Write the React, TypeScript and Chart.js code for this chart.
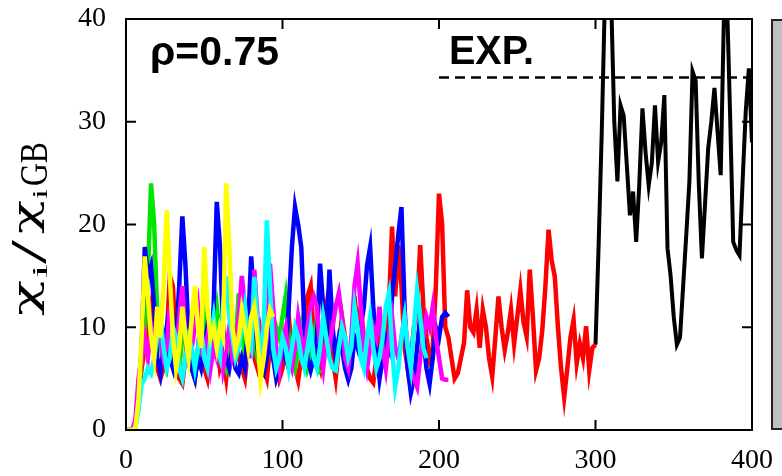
import React, { useEffect, useRef } from 'react';
import { Chart, registerables } from 'chart.js';

Chart.register(...registerables);

// x-axis tick labels & ranges
const X_MIN = 0;
const X_MAX = 400;
const Y_MIN = 0;
const Y_MAX = 40;
const STEP = 2; // time spacing of samples

// Experimental level (dashed line)
const EXP_START = 200;
const EXP_END = 400;
const EXP_VALUE = 34.3;

// series: start x and values sampled every STEP
const redStart = 0;
const redValues = [
  0, 0, 0, 0.3, 3, 6,
  8, 10, 12, 9, 6, 5, 6, 9, 15, 14,
  8, 5, 4.5, 7, 10, 6, 5, 8, 7, 6,
  5, 8, 11, 9, 6, 7, 5, 8, 10, 9,
  7, 6, 5, 8, 12, 7, 6, 9, 6, 5,
  8, 10, 7, 5, 6, 9, 11, 8, 6, 4.8,
  7, 10, 13, 14, 9, 7, 6, 10, 12, 9,
  7, 5, 8, 11, 9, 6, 8, 13, 10, 12,
  9, 6, 5, 4.6, 7, 10, 9, 6, 12, 19.8,
  13, 18, 14, 8, 6, 7, 10, 12, 18, 12,
  9, 7, 8, 14, 23, 20, 10, 9, 7, 5,
  5.5, 7, 8.5, 13.6, 10, 9.5, 11.7, 8, 11.7, 10,
  7, 5.2, 9, 13, 10, 7.8, 9.5, 11.7, 8.4, 11,
  13.6, 10.5, 9.1, 15.6, 11, 5.8, 7, 9.7, 14, 19.5,
  16.5, 14.9, 10, 6, 3.2, 6, 9, 10.7, 6.5, 8.4,
  7, 10.1, 5.8, 8, 8.3,
];

const blackStart = 300;
const blackValues = [
  8.3, 18, 29, 42, 45, 42, 30, 24.2, 31.6, 30.6,
  25.8, 20.9, 23.2, 18.3, 24, 31.3, 27, 23.8, 26, 31.6,
  26.1, 28, 32.6, 17.7, 15, 11, 8.3, 9, 14, 19,
  24.2, 34.9, 34, 24, 16.7, 22, 27.4, 30, 33.3, 29,
  24.8, 40, 42, 30.7, 18.3, 17.5, 17, 24.2, 31, 35.2,
  28,
];

const blueStart = 0;
const blueValues = [
  0, 0, 0, 0.5, 4, 8,
  17.8, 15, 16, 12, 7, 5.5, 8, 10, 7, 6,
  9, 14, 20.8, 16, 9, 6, 5, 7, 6, 8,
  10, 7, 12, 22.2, 18, 10, 7, 6, 8, 6,
  5.5, 7, 6, 10, 16.9, 12, 8, 6, 5.5, 7,
  9, 7, 5, 6, 8, 7, 12, 17.8, 21.7, 20,
  17.8, 10, 7, 5.8, 7, 9, 16.2, 12, 8, 15.6,
  10, 7, 9, 8, 6, 4.9, 6, 9, 8, 10,
  12, 16, 17.8, 12, 8, 5, 7, 9, 8, 13,
  16, 19, 21.7, 12, 6, 3.6, 5, 8, 11, 9,
  6, 4.5, 7, 10, 9, 11, 11.4, 11,
];

const greenStart = 0;
const greenValues = [
  0, 0, 0, 0.3, 3, 7,
  10, 15, 24, 20, 11, 8, 7, 6, 8, 10,
  7, 6, 9, 12, 8, 6, 5, 7, 9, 11,
  8, 7, 10, 12, 9, 7, 6, 8, 10, 8,
  13.3, 10, 7, 8, 12, 9, 7, 6, 9, 11,
  8, 7, 10, 9, 11, 13, 9, 7, 6, 8,
  10, 8, 6, 7, 9, 6, 5.5,
];

const magentaStart = 0;
const magentaValues = [
  0, 0, 0, 1, 5, 7,
  9, 7, 10, 8, 12, 9, 7, 8, 12, 9,
  7, 11, 14, 9, 7, 8, 10, 12, 8, 7,
  9, 6, 8, 7, 9, 6, 8, 10, 7, 8,
  11, 15, 12, 9, 7, 15.6, 11, 8, 7, 9,
  16.2, 12, 8, 6, 9, 10, 7, 6, 8, 11,
  9, 7, 10, 12, 13, 12, 8, 6, 9, 8,
  10, 12, 13.3, 11, 7, 6, 9, 14, 16.2, 12,
  8, 6, 8, 10, 9, 12, 8, 6, 9, 11,
  8, 7, 9, 11, 8, 6, 5, 4.2, 7, 9,
  11, 10, 12, 9, 7, 5, 4.9, 4.9,
];

const cyanStart = 0;
const cyanValues = [
  0, 0, 0, 0.2, 2, 4.5,
  5, 6, 5.5, 7, 9, 11, 8, 6, 7, 10,
  9, 6, 5, 7, 9, 8, 6, 8, 10, 7,
  6, 9, 11, 8, 7, 12, 15, 11, 9, 7,
  8, 10, 12, 9, 8, 14.9, 10, 7, 10, 20.4,
  14, 8, 6, 7, 9, 8, 6, 8, 10, 9,
  7, 6, 8, 10, 7, 6, 8, 11, 9, 7,
  6, 5.8, 8, 10, 9, 7, 8, 12, 10, 7,
  6, 9, 11, 8, 6, 7, 9, 12, 13.3, 8,
  4.2, 6, 9, 11, 8, 6, 10, 13.6, 11, 8, 7,
];

const yellowStart = 0;
const yellowValues = [
  0, 0, 0, 0.2, 3, 9,
  16.9, 13, 9, 7, 12, 9, 14, 21.4, 15, 9,
  6, 8, 12, 9, 7, 11, 14, 10, 8, 17.8,
  12, 9, 10, 8, 10, 9, 24, 18, 10, 7.8,
  9, 11.7, 10, 8, 11, 12, 9, 4.9, 7, 10, 11.7, 11,
];

const xTickLabels = [0, 100, 200, 300, 400];
const yTickLabels = [0, 10, 20, 30, 40];

const toPoints = (start: number, values: number[]) =>
  values.map((y, i) => ({ x: start + i * STEP, y }));

const PLOT_LEFT_W = 126;
const X_AXIS_H = 46;

const framePlugin = {
  id: 'framePlugin',
  afterDatasetsDraw(chart: any) {
    const { ctx, chartArea } = chart;
    const { left, right, top, bottom } = chartArea;
    const xs = chart.scales.x;
    const ys = chart.scales.y;
    ctx.save();
    ctx.strokeStyle = '#000';
    ctx.lineWidth = 2;
    ctx.strokeRect(left, top, right - left, bottom - top);
    // inward tick marks
    const tl = 10;
    ctx.beginPath();
    for (const v of xTickLabels) {
      const px = xs.getPixelForValue(v);
      ctx.moveTo(px, bottom);
      ctx.lineTo(px, bottom - tl);
      ctx.moveTo(px, top);
      ctx.lineTo(px, top + tl);
    }
    for (const v of yTickLabels) {
      const py = ys.getPixelForValue(v);
      ctx.moveTo(left, py);
      ctx.lineTo(left + tl, py);
      ctx.moveTo(right, py);
      ctx.lineTo(right - tl, py);
    }
    ctx.stroke();

    // grey side panel
    ctx.fillStyle = '#c0c0c0';
    ctx.fillRect(right + 20, top + 1, 40, bottom - top - 2);
    ctx.lineWidth = 2;
    ctx.strokeStyle = '#222';
    ctx.strokeRect(right + 20, top + 1, 40, bottom - top - 2);

    // annotations
    ctx.fillStyle = '#000';
    ctx.font = 'bold 41px "Liberation Sans", Arial, sans-serif';
    ctx.textAlign = 'left';
    ctx.textBaseline = 'alphabetic';
    ctx.fillText('ρ=0.75', 150, 65, 132);
    ctx.fillText('EXP.', 449, 64, 85);

    // y-axis title: χi / χiGB (rotated)
    const piece = (text: string, font: string, yBottom: number, yTop: number, baseX: number) => {
      ctx.save();
      ctx.font = font;
      const w = ctx.measureText(text).width;
      ctx.translate(baseX, yBottom);
      ctx.rotate(-Math.PI / 2);
      ctx.scale((yBottom - yTop) / w, 1);
      ctx.fillText(text, 0, 0);
      ctx.restore();
    };
    const serif = '"DejaVu Serif", "Liberation Serif", serif';
    const lserif = '"Liberation Serif", "Times New Roman", serif';
    piece('χ', `34px ${serif}`, 316, 280, 37);
    piece('i', `22px ${lserif}`, 278, 264, 47);
    piece('/', `50px ${lserif}`, 264, 240, 45);
    piece('χ', `34px ${serif}`, 234, 200, 37);
    piece('i', `22px ${lserif}`, 199, 189, 47);
    piece('GB', `40px ${lserif}`, 186, 142, 47);
    ctx.restore();
  },
};

export default function App() {
  const ref = useRef<HTMLCanvasElement | null>(null);
  useEffect(() => {
    if (!ref.current) return;
    const mk = (label: string, start: number, values: number[], color: string, order: number, width = 4.5) => ({
      label,
      data: toPoints(start, values),
      borderColor: color,
      backgroundColor: color,
      borderWidth: width,
      pointRadius: 0,
      tension: 0,
      fill: false,
      order,
    });
    const chart = new Chart(ref.current, {
      type: 'line',
      data: {
        datasets: [
          {
            label: 'EXP.',
            data: [
              { x: EXP_START, y: EXP_VALUE },
              { x: EXP_END, y: EXP_VALUE },
            ],
            borderColor: '#000',
            borderWidth: 2.5,
            borderDash: [10, 6],
            pointRadius: 0,
            fill: false,
            order: 0,
          },
          mk('yellow', yellowStart, yellowValues, '#ffff00', 1),
          mk('cyan', cyanStart, cyanValues, '#00ffff', 2),
          mk('magenta', magentaStart, magentaValues, '#ff00ff', 3),
          mk('blue', blueStart, blueValues, '#0000ff', 4),
          mk('green', greenStart, greenValues, '#00e600', 5),
          mk('red', redStart, redValues, '#ff0000', 6),
          mk('black', blackStart, blackValues, '#000000', 7, 4),
        ],
      },
      options: {
        animation: false,
        responsive: false,
        maintainAspectRatio: false,
        layout: { padding: { top: 19, right: 30, left: 0, bottom: 0 } },
        plugins: { legend: { display: false }, tooltip: { enabled: false } },
        scales: {
          x: {
            type: 'linear',
            min: X_MIN,
            max: X_MAX,
            afterFit: (s: any) => {
              s.height = X_AXIS_H;
              s.paddingLeft = 0;
              s.paddingRight = 0;
            },
            afterBuildTicks: (s: any) => { s.ticks = xTickLabels.map((v) => ({ value: v })); },
            ticks: {
              color: '#000',
              padding: 14,
              maxRotation: 0,
              font: { family: '"Liberation Serif", "Times New Roman", serif', size: 28 },
            },
            grid: { display: false, drawTicks: false },
            border: { display: false },
          },
          y: {
            type: 'linear',
            min: Y_MIN,
            max: Y_MAX,
            afterFit: (s: any) => {
              s.width = PLOT_LEFT_W;
              s.paddingTop = 0;
              s.paddingBottom = 0;
            },
            afterBuildTicks: (s: any) => { s.ticks = yTickLabels.map((v) => ({ value: v })); },
            ticks: {
              color: '#000',
              padding: 20,
              font: { family: '"Liberation Serif", "Times New Roman", serif', size: 28 },
            },
            grid: { display: false, drawTicks: false },
            border: { display: false },
          },
        },
      },
      plugins: [framePlugin],
    });
    return () => chart.destroy();
  }, []);
  return (
    <div style={{ position: 'fixed', left: 0, top: 0, width: 782, height: 476, background: '#fff' }}>
      <canvas ref={ref} width={782} height={476} style={{ display: 'block' }} />
    </div>
  );
}
